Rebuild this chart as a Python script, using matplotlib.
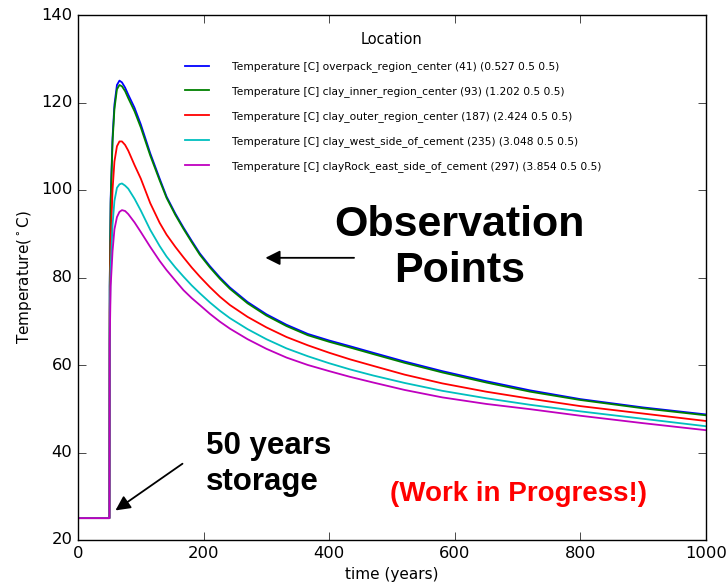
import numpy as np
import matplotlib
matplotlib.use('Agg')
import matplotlib.pyplot as plt

# time axis (years) shared by all observation points
t = [0, 50, 50.5, 52, 55, 58, 62, 66, 70, 75, 80, 90, 100, 115, 130, 141, 155,
     168, 181, 194, 210, 226, 242, 270, 300, 332, 366, 400, 433, 470, 520,
     580, 650, 720, 800, 900, 1000]

# temperature [C] at each observation point
overpack = [25, 25, 78, 98, 112, 119.5, 124, 125, 124.6, 123.4, 121.8, 118.8,
            115, 108.4, 102.6, 98.5, 94.6, 91.4, 88.4, 85.5, 82.6, 80.0, 77.7,
            74.4, 71.6, 69.2, 67.1, 65.6, 64.3, 62.8, 60.8, 58.6, 56.3, 54.2,
            52.2, 50.3, 48.7]
clay_inner = [25, 25, 78, 97, 111, 118.5, 123, 124, 123.7, 122.6, 121, 118,
              114.3, 107.9, 102.2, 98.2, 94.3, 91.1, 88.1, 85.2, 82.3, 79.7,
              77.4, 74.1, 71.3, 68.9, 66.8, 65.3, 64.0, 62.5, 60.5, 58.3, 56.0,
              53.9, 52.0, 50.1, 48.5]
clay_outer = [25, 25, 72, 88, 100, 106.5, 110, 111.1, 111.1, 110.3, 109, 105.7,
              102.6, 97.0, 92.5, 89.8, 87, 84.6, 82.3, 80.2, 77.8, 75.6, 73.7,
              71.0, 68.6, 66.4, 64.5, 62.8, 61.3, 59.8, 57.8, 55.8, 53.9, 52.3,
              50.6, 48.9, 47.2]
clay_west = [25, 25, 68, 82, 92, 97.5, 100.5, 101.3, 101.5, 101.0, 100.3, 98.0,
             95.3, 90.9, 87.2, 84.8, 82.3, 80.2, 78.2, 76.4, 74.3, 72.4, 70.7,
             68.2, 65.9, 63.8, 62.0, 60.4, 59.0, 57.6, 55.9, 54.1, 52.4, 50.9,
             49.4, 47.7, 46.0]
clayrock_east = [25, 25, 65, 78, 86, 91, 93.8, 95.0, 95.4, 95.2, 94.5, 92.6,
                 90.4, 87.0, 83.8, 81.7, 79.3, 77.1, 75.3, 73.7, 71.7, 69.9,
                 68.3, 65.9, 63.7, 61.7, 60.0, 58.6, 57.3, 56.0, 54.3, 52.6,
                 51.1, 49.9, 48.4, 46.7, 45.1]

labels = [
    'Temperature [C] overpack_region_center (41) (0.527 0.5 0.5)',
    'Temperature [C] clay_inner_region_center (93) (1.202 0.5 0.5)',
    'Temperature [C] clay_outer_region_center (187) (2.424 0.5 0.5)',
    'Temperature [C] clay_west_side_of_cement (235) (3.048 0.5 0.5)',
    'Temperature [C] clayRock_east_side_of_cement (297) (3.854 0.5 0.5)',
]
series = [overpack, clay_inner, clay_outer, clay_west, clayrock_east]
colores = ['b', 'g', 'r', 'c', 'm']

plt.style.use('classic')
plt.rcParams['figure.facecolor'] = 'white'
plt.rcParams['savefig.facecolor'] = 'white'
plt.rcParams['font.family'] = ['DejaVu Sans']
plt.rcParams['mathtext.default'] = 'regular'

fig = plt.figure(figsize=(7.27, 5.84), dpi=100)
ax = fig.add_axes([78/727, 1 - 540/584, 628/727, 525/584])

for y, c, lab in zip(series, colores, labels):
    ax.plot(t, y, color=c, linewidth=1.3, label=lab)

ax.set_xlim(0, 1000)
ax.set_ylim(20, 140)
ax.set_xticks(np.arange(0, 1001, 200))
ax.set_yticks(np.arange(20, 141, 20))
ax.tick_params(labelsize=11.8, direction='in', length=6, top=True, right=True)
ax.set_xlabel('time (years)', fontsize=11)
ax.set_ylabel('Temperature($^\\circ$C)', fontsize=11)

leg = ax.legend(loc='upper left', bbox_to_anchor=(0.15, 0.985), frameon=False,
                fontsize=7.7, title='Location', handlelength=2.8,
                handletextpad=1.9, labelspacing=1.3)
leg.get_title().set_fontsize(10.5)

# anotaciones
bold = dict(family='Liberation Sans', fontweight='bold')
ax.text(608, 86.8, 'Observation\nPoints', ha='center', va='center',
        fontsize=31, linespacing=1.2, **bold)
ax.annotate('', xy=(294, 84.5), xytext=(444, 84.5),
            arrowprops=dict(arrowstyle='-|>', color='black', lw=1.3,
                            mutation_scale=22))
ax.text(204, 37.3, '50 years\nstorage', ha='left', va='center',
        fontsize=22.5, linespacing=1.25, **bold)
ax.annotate('', xy=(56, 26.4), xytext=(170, 37.8),
            arrowprops=dict(arrowstyle='-|>', color='black', lw=1.3,
                            mutation_scale=22))
ax.text(702, 30.6, '(Work in Progress!)', ha='center', va='center',
        fontsize=20, color='red', **bold)

fig.savefig('out.png', dpi=100)
